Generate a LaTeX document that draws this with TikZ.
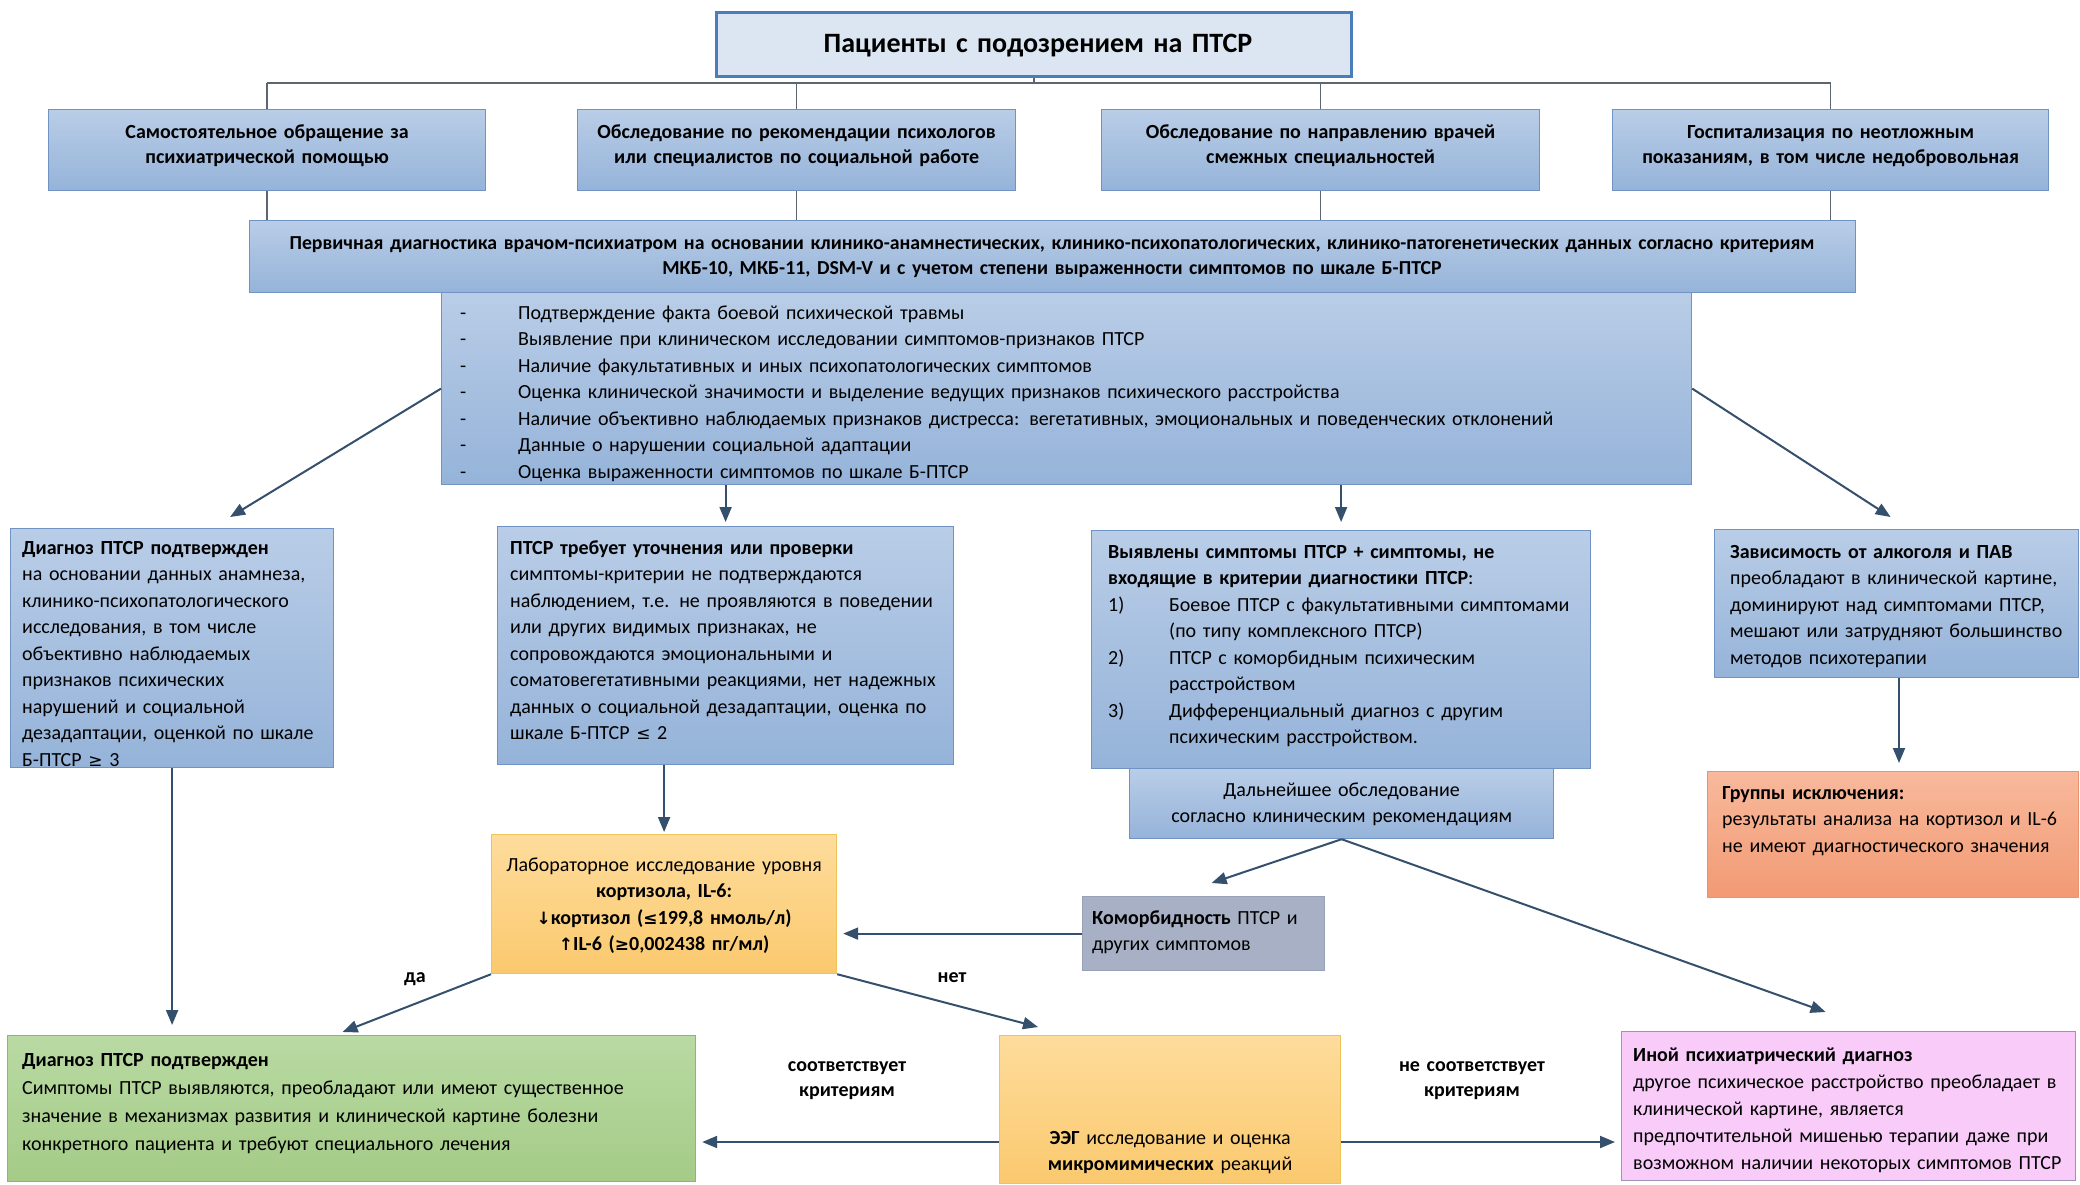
\documentclass[tikz,border=0pt]{standalone}
\usepackage{fontspec}
\setmainfont{Carlito}
\newfontfamily\symf{DejaVu Sans}
\usetikzlibrary{arrows.meta,calc}
\definecolor{topfill}{HTML}{DCE6F2}
\definecolor{topbd}{HTML}{4A7EBB}
\definecolor{bluetop}{HTML}{B9CDE7}
\definecolor{bluebot}{HTML}{95B3D9}
\definecolor{bluebd}{HTML}{7093C4}
\definecolor{yeltop}{HTML}{FEDC9C}
\definecolor{yelbot}{HTML}{FAC96E}
\definecolor{yelbd}{HTML}{EFC25A}
\definecolor{greyfill}{HTML}{A7B0C4}
\definecolor{greybd}{HTML}{98A2B6}
\definecolor{saltop}{HTML}{F8B99C}
\definecolor{salbot}{HTML}{F29A74}
\definecolor{salbd}{HTML}{E9946E}
\definecolor{grntop}{HTML}{B9DAA3}
\definecolor{grnbot}{HTML}{A4CB87}
\definecolor{grnbd}{HTML}{8CB86C}
\definecolor{pinkfill}{HTML}{F8CBF8}
\definecolor{pinkbd}{HTML}{A193B8}
\definecolor{arrc}{HTML}{34506C}
\definecolor{linec}{HTML}{5B6670}
\newcommand{\sy}[1]{{\symf\fontsize{17}{20}\selectfont #1}}
\begin{document}
\begin{tikzpicture}[x=1pt,y=-1pt,
  box/.style={anchor=north west, inner sep=0pt, line width=1.2pt},
  bluebox/.style={box, draw=bluebd, top color=bluetop, bottom color=bluebot},
  yelbox/.style={box, draw=yelbd, top color=yeltop, bottom color=yelbot},
  greybox/.style={box, draw=greybd, fill=greyfill},
  salbox/.style={box, draw=salbd, top color=saltop, bottom color=salbot},
  grnbox/.style={box, draw=grnbd, top color=grntop, bottom color=grnbot},
  pinkbox/.style={box, draw=pinkbd, fill=pinkfill},
  arr/.style={draw=arrc, line width=2pt, -{Triangle[length=15pt,width=12pt]}},
  tree/.style={draw=linec, line width=1.6pt},
  txtl/.style={inner sep=0pt, font=\fontsize{20}{26.5}\selectfont, text width=#1, align=left, anchor=base west},
  txtc/.style={inner sep=0pt, font=\fontsize{20}{26.5}\selectfont, text width=#1, align=center, anchor=base},
  lbl/.style={inner sep=0pt, font=\bfseries\fontsize{20}{25}\selectfont, text width=250pt, align=center, anchor=base}
]
\useasboundingbox[fill=white] (0,0) rectangle (2080,1184);

% top
\node[box, draw=topbd, line width=3pt, fill=topfill, minimum width=635pt, minimum height=64pt] (top) at (715,11) {};
\node[txtc=620pt, font=\bfseries\fontsize{28}{30}\selectfont] (top-t) at (1038,52) {Пациенты с подозрением на ПТСР};

% row 2
\node[bluebox, minimum width=437pt, minimum height=81pt] (r1) at (48,109) {};
\node[bluebox, minimum width=438pt, minimum height=81pt] (r2) at (577,109) {};
\node[bluebox, minimum width=438pt, minimum height=81pt] (r3) at (1101,109) {};
\node[bluebox, minimum width=436pt, minimum height=81pt] (r4) at (1612,109) {};
\node[txtc=430pt, font=\bfseries\fontsize{20}{25}\selectfont] (r1-t) at (r1.north |- 0,138) {Самостоятельное обращение за\\психиатрической помощью};
\node[txtc=430pt, font=\bfseries\fontsize{20}{25}\selectfont] (r2-t) at (r2.north |- 0,138) {Обследование по рекомендации психологов\\или специалистов по социальной работе};
\node[txtc=430pt, font=\bfseries\fontsize{20}{25}\selectfont] (r3-t) at (r3.north |- 0,138) {Обследование по направлению врачей\\смежных специальностей};
\node[txtc=430pt, font=\bfseries\fontsize{20}{25}\selectfont] (r4-t) at (r4.north |- 0,138) {Госпитализация по неотложным\\показаниям, в том числе недобровольная};

% primary
\node[bluebox, minimum width=1606pt, minimum height=72pt] (prim) at (249,220) {};
\node[txtc=1600pt, font=\bfseries\fontsize{19.8}{25}\selectfont] (prim-t) at (1052,249) {Первичная диагностика врачом-психиатром на основании клинико-анамнестических, клинико-психопатологических, клинико-патогенетических данных согласно критериям\\МКБ-10, МКБ-11, DSM-V и с учетом степени выраженности симптомов по шкале Б-ПТСР};

% tree
\coordinate (bus) at (0,83);
\draw[tree] (top.south) -- (top.south |- bus);
\draw[tree] (r1.north |- bus) -- (r4.north |- bus);
\foreach \r in {r1,r2,r3,r4} {
  \draw[tree] (\r.north |- bus) -- (\r.north);
  \draw[tree] (\r.south) -- (\r.south |- prim.north);
}

% list
\node[bluebox, minimum width=1250pt, minimum height=192pt] (list) at (441,292) {};
\node[txtl=1220pt] (list-t) at (460,319) {%
\makebox[58pt][l]{-}Подтверждение факта боевой психической травмы\\
\makebox[58pt][l]{-}Выявление при клиническом исследовании симптомов-признаков ПТСР\\
\makebox[58pt][l]{-}Наличие факультативных и иных психопатологических симптомов\\
\makebox[58pt][l]{-}Оценка клинической значимости и выделение ведущих признаков психического расстройства\\
\makebox[58pt][l]{-}Наличие объективно наблюдаемых признаков дистресса: вегетативных, эмоциональных и поведенческих отклонений\\
\makebox[58pt][l]{-}Данные о нарушении социальной адаптации\\
\makebox[58pt][l]{-}Оценка выраженности симптомов по шкале Б-ПТСР};

% row 3
\node[bluebox, minimum width=323pt, minimum height=239pt] (A) at (10,528) {};
\node[txtl=320pt] (A-t) at (22,554) {\textbf{Диагноз ПТСР подтвержден}\\на основании данных анамнеза,\\клинико-психопатологического\\исследования, в том числе\\объективно наблюдаемых\\признаков психических\\нарушений и социальной\\дезадаптации, оценкой по шкале\\Б-ПТСР \sy{≥} 3};

\node[bluebox, minimum width=456pt, minimum height=238pt] (B) at (497,526) {};
\node[txtl=450pt] (B-t) at (510,554) {\textbf{ПТСР требует уточнения или проверки}\\симптомы-критерии не подтверждаются\\наблюдением, т.е. не проявляются в поведении\\или  других видимых признаках, не\\сопровождаются эмоциональными и\\соматовегетативными реакциями, нет надежных\\данных о социальной дезадаптации, оценка по\\шкале Б-ПТСР \sy{≤} 2};

\node[bluebox, minimum width=499pt, minimum height=238pt] (C) at (1091,530) {};
\node[txtl=490pt] (C-t) at (1108,558) {\textbf{Выявлены симптомы ПТСР + симптомы, не}\\\textbf{входящие в критерии диагностики ПТСР}:\\
\makebox[61pt][l]{1)}Боевое ПТСР с факультативными симптомами\\
\hspace*{61pt}(по типу комплексного ПТСР)\\
\makebox[61pt][l]{2)}ПТСР с коморбидным психическим\\
\hspace*{61pt}расстройством\\
\makebox[61pt][l]{3)}Дифференциальный диагноз с другим\\
\hspace*{61pt}психическим расстройством.};

\node[bluebox, minimum width=424pt, minimum height=70pt] (C2) at (1129,768) {};
\node[txtc=420pt] (C2-t) at (C2.north |- 0,796) {Дальнейшее обследование\\согласно клиническим рекомендациям};

\node[bluebox, minimum width=364pt, minimum height=148pt] (D) at (1714,529) {};
\node[txtl=360pt] (D-t) at (1730,558) {\textbf{Зависимость от алкоголя  и ПАВ}\\преобладают в клинической картине,\\доминируют над симптомами ПТСР,\\мешают или затрудняют большинство\\методов психотерапии};

\node[salbox, minimum width=371pt, minimum height=126pt] (E) at (1707,771) {};
\node[txtl=360pt] (E-t) at (1722,799) {\textbf{Группы исключения:}\\результаты анализа на кортизол и IL-6\\не имеют диагностического значения};

% lab + comorbidity
\node[yelbox, minimum width=345pt, minimum height=139pt] (lab) at (491,834) {};
\node[txtc=340pt] (lab-t) at (lab.north |- 0,871) {Лабораторное исследование уровня\\\textbf{кортизола,  IL-6:}\\\textbf{\sy{↓}кортизол  (\sy{≤}199,8 нмоль/л)}\\\textbf{\sy{↑}IL-6 (\sy{≥}0,002438 пг/мл)}};

\node[greybox, minimum width=242pt, minimum height=74pt] (com) at (1082,896) {};
\node[txtl=235pt] (com-t) at (1092,924) {\textbf{Коморбидность} ПТСР и\\других симптомов};

% bottom row
\node[grnbox, minimum width=688pt, minimum height=146pt] (G) at (7,1035) {};
\node[txtl=680pt, font=\fontsize{20}{28}\selectfont] (G-t) at (22,1066) {\textbf{Диагноз ПТСР подтвержден}\\Симптомы ПТСР выявляются, преобладают или имеют существенное\\значение в механизмах развития и клинической картине болезни\\конкретного пациента и требуют специального лечения};

\node[yelbox, minimum width=341pt, minimum height=148pt] (eeg) at (999,1035) {};
\node[txtc=335pt] (eeg-t) at (eeg.north |- 0,1144) {\textbf{ЭЭГ} исследование и оценка\\\textbf{микромимических} реакций};

\node[pinkbox, minimum width=454pt, minimum height=149pt] (P) at (1621,1031) {};
\node[txtl=450pt, font=\fontsize{20}{27}\selectfont] (P-t) at (1633,1061) {\textbf{Иной психиатрический диагноз}\\другое психическое расстройство преобладает в\\клинической картине, является\\предпочтительной мишенью терапии даже при\\возможном наличии некоторых симптомов ПТСР};

% arrows
\draw[arr] (list.west) -- ($(A.north)+(58,-11)$);
\draw[arr] (list.east) -- ($(D.north)+(-6,-12)$);
\draw[arr, shorten >=4pt] (list.south -| B.north) -- (B.north);
\draw[arr, shorten >=8pt] (list.south -| C.north) -- (C.north);
\draw[arr, shorten >=8pt] (D.south -| 1899,0) -- (E.north -| 1899,0);
\draw[arr, shorten >=2pt] (B.south -| lab.north) -- (lab.north);
\draw[arr, shorten >=6pt] (com.west) -- (com.west -| lab.east);
\draw[arr] (C2.south) -- ($(com.north)+(8,-13)$);
\draw[arr] (C2.south) -- ($(P.north)+(-23,-19)$);
\draw[arr] (lab.south west) -- ($(G.north)+(-9,-3)$);
\draw[arr] (lab.south east) -- ($(eeg.north west)+(39,-8)$);
\draw[arr, shorten >=10pt] (A.south) -- (A.south |- G.north);
\coordinate (ya) at (0,1142);
\draw[arr, shorten >=6pt] (eeg.west |- ya) -- (G.east |- ya);
\draw[arr, shorten >=6pt] (eeg.east |- ya) -- (P.west |- ya);

% labels
\node[lbl] (da) at (415,982) {да};
\node[lbl] (net) at (952,982) {нет};
\node[lbl] (sootv) at (847,1071) {соответствует\\критериям};
\node[lbl] (nesootv) at (1472,1071) {не соответствует\\критериям};
\end{tikzpicture}
\end{document}
